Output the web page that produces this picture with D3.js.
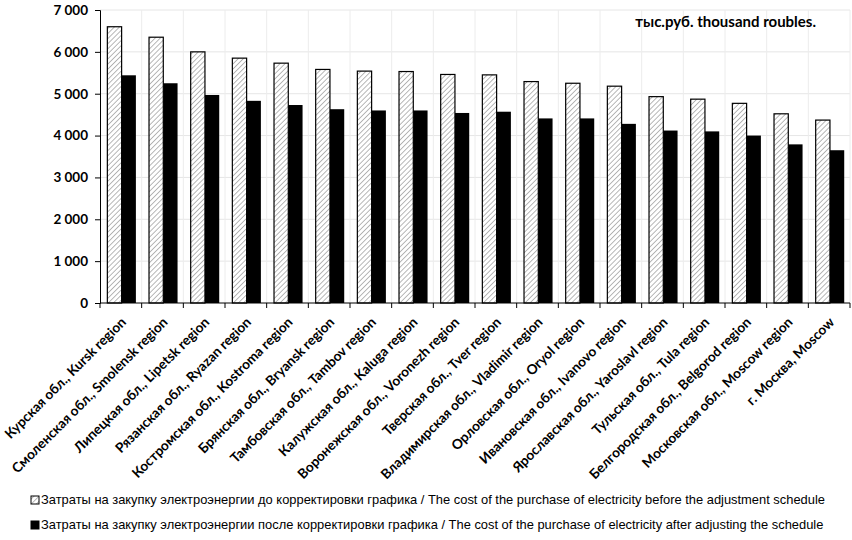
<!DOCTYPE html>
<html lang="ru">
<head>
<meta charset="UTF-8">
<title>Затраты на закупку электроэнергии</title>
<script src="https://d3js.org/d3.v7.min.js"></script>
<style>
  body { margin: 0; background: #fff; }
  svg { display: block; }
  .tick-label { font-family: Lato, "Open Sans", sans-serif; font-weight: 700; fill: #000; }
  .legend { font-family: "Liberation Sans", Arial, sans-serif; font-size: 12.9px; fill: #000; }
</style>
</head>
<body>
<svg id="chart" width="852" height="540"></svg>
<script>
const regions = [
  "Курская обл., Kursk region",
  "Смоленская обл., Smolensk region",
  "Липецкая обл., Lipetsk region",
  "Рязанская обл., Ryazan region",
  "Костромская обл., Kostroma region",
  "Брянская обл., Bryansk region",
  "Тамбовская обл., Tambov region",
  "Калужская обл., Kaluga region",
  "Воронежская обл., Voronezh region",
  "Тверская обл., Tver region",
  "Владимирская обл., Vladimir region",
  "Орловская обл., Oryol region",
  "Ивановская обл., Ivanovo region",
  "Ярославская обл., Yaroslavl region",
  "Тульская обл., Tula region",
  "Белгородская обл., Belgorod region",
  "Московская обл., Moscow region",
  "г. Москва, Moscow"
];
const costBefore = [6600, 6350, 6000, 5850, 5730, 5580, 5540, 5530, 5460, 5450, 5290, 5250, 5180, 4930, 4870, 4770, 4520, 4370];
const costAfter  = [5440, 5250, 4970, 4830, 4730, 4630, 4600, 4600, 4540, 4570, 4410, 4410, 4280, 4120, 4100, 4000, 3790, 3650];
const yTicks = [0, 1000, 2000, 3000, 4000, 5000, 6000, 7000];
const seriesNames = [
  "Затраты на закупку электроэнергии до корректировки графика / The cost of the purchase of electricity before the adjustment schedule",
  "Затраты на закупку электроэнергии после корректировки графика / The cost of the purchase of electricity after adjusting the schedule"
];
const unitLabel = "тыс.руб. thousand roubles.";

const svg = d3.select("#chart");
const plotL = 100, plotR = 850, plotT = 10, plotB = 303;

// штриховка для первого ряда
const defs = svg.append("defs");
const pat = defs.append("pattern")
  .attr("id", "hatch").attr("patternUnits", "userSpaceOnUse")
  .attr("width", 3.6).attr("height", 3.6)
  .attr("patternTransform", "rotate(45)");
pat.append("rect").attr("width", 3.6).attr("height", 3.6).attr("fill", "#fff");
pat.append("line").attr("x1", 0).attr("y1", 0).attr("x2", 0).attr("y2", 3.6)
  .attr("stroke", "#a0a0a0").attr("stroke-width", 1.5);

const x = d3.scaleBand().domain(regions).range([plotL, plotR]).paddingInner(0).paddingOuter(0);
const xs = d3.scaleBand().domain([0, 1]).range([0, x.bandwidth()])
  .paddingInner(0).paddingOuter(0.46).align(0.56);
const y = d3.scaleLinear().domain([0, 7000]).range([plotB, plotT]);

// сетка
svg.append("g").selectAll("line").data(yTicks.slice(1)).join("line")
  .attr("x1", plotL).attr("x2", plotR)
  .attr("y1", d => y(d)).attr("y2", d => y(d))
  .attr("stroke", "#e6e6e6").attr("stroke-width", 1);
svg.append("g").selectAll("line").data(d3.range(1, regions.length + 1)).join("line")
  .attr("x1", i => plotL + x.step() * i).attr("x2", i => plotL + x.step() * i)
  .attr("y1", plotT).attr("y2", plotB)
  .attr("stroke", "#ececec").attr("stroke-width", 1);

// столбцы
const groups = svg.append("g").selectAll("g").data(regions).join("g")
  .attr("transform", d => `translate(${x(d)},0)`);
groups.append("rect")
  .attr("x", xs(0)).attr("width", xs.bandwidth())
  .attr("y", (d, i) => y(costBefore[i])).attr("height", (d, i) => plotB - y(costBefore[i]))
  .attr("fill", "url(#hatch)").attr("stroke", "#000").attr("stroke-width", 1.2);
groups.append("rect")
  .attr("x", xs(1)).attr("width", xs.bandwidth())
  .attr("y", (d, i) => y(costAfter[i])).attr("height", (d, i) => plotB - y(costAfter[i]))
  .attr("fill", "#000");

// ось Y
const yAxis = svg.append("g").attr("transform", `translate(${plotL},0)`)
  .call(d3.axisLeft(y).tickValues(yTicks).tickSize(5).tickPadding(7)
    .tickFormat(d => d3.format(",")(d).replace(",", " ")));
yAxis.select(".domain").attr("stroke", "#000");
yAxis.selectAll("text").attr("class", "tick-label").style("font-size", "13.5px");

// ось X
const xAxis = svg.append("g").attr("transform", `translate(0,${plotB})`);
xAxis.append("line").attr("x1", plotL).attr("x2", plotR).attr("y1", 0).attr("y2", 0)
  .attr("stroke", "#000");
xAxis.selectAll(".xt").data(d3.range(regions.length + 1)).join("line")
  .attr("class", "xt")
  .attr("x1", i => plotL + x.step() * i).attr("x2", i => plotL + x.step() * i)
  .attr("y1", 0).attr("y2", 5).attr("stroke", "#000");
xAxis.selectAll(".xl").data(regions).join("text")
  .attr("class", "tick-label xl")
  .style("font-size", "13.6px")
  .attr("text-anchor", "end")
  .attr("transform", d => `translate(${x(d) + x.bandwidth() / 2 + 6},${20}) rotate(-45)`)
  .text(d => d);

// подпись единиц
svg.append("text").attr("class", "tick-label").style("font-size", "15px")
  .attr("x", 816).attr("y", 27).attr("text-anchor", "end").text(unitLabel);

// легенда
const legend = svg.append("g");
const legY = [504, 529];
legend.selectAll("rect").data(seriesNames).join("rect")
  .attr("x", 31).attr("y", (d, i) => legY[i] - 8).attr("width", 8).attr("height", 8)
  .attr("fill", (d, i) => i === 0 ? "url(#hatch)" : "#000")
  .attr("stroke", "#000").attr("stroke-width", 1);
legend.selectAll("text").data(seriesNames).join("text")
  .attr("class", "legend")
  .attr("x", 41).attr("y", (d, i) => legY[i])
  .text(d => d);
</script>
</body>
</html>
